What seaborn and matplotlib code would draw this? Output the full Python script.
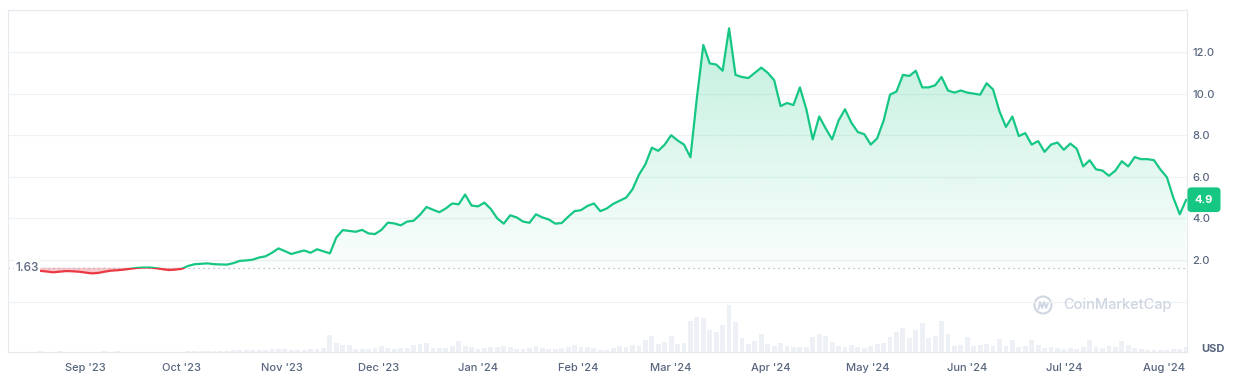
import numpy as np
import pandas as pd
import seaborn as sns
import matplotlib.pyplot as plt
import matplotlib.dates as mdates
from matplotlib.patches import Rectangle, Circle
from matplotlib.path import Path

# one-year price chart (CoinMarketCap style), prices sampled every 2 days

start_date = '2023-08-18'
prices = [
    1.48, 1.45, 1.41, 1.44, 1.47, 1.46, 1.44, 1.40, 1.36, 1.38,
    1.44, 1.49, 1.51, 1.54, 1.58, 1.62, 1.64, 1.64, 1.61, 1.56,
    1.52, 1.54, 1.58, 1.72, 1.80, 1.82, 1.84, 1.80, 1.79, 1.78,
    1.85, 1.96, 1.98, 2.02, 2.12, 2.18, 2.35, 2.56, 2.43, 2.29,
    2.38, 2.46, 2.35, 2.52, 2.42, 2.32, 3.09, 3.44, 3.40, 3.36,
    3.45, 3.28, 3.25, 3.45, 3.80, 3.76, 3.67, 3.85, 3.89, 4.18,
    4.55, 4.42, 4.30, 4.48, 4.72, 4.68, 5.15, 4.62, 4.58, 4.76,
    4.45, 4.00, 3.75, 4.15, 4.05, 3.85, 3.79, 4.20, 4.05, 3.95,
    3.75, 3.78, 4.08, 4.35, 4.40, 4.60, 4.72, 4.35, 4.48, 4.70,
    4.85, 5.00, 5.40, 6.10, 6.60, 7.40, 7.25, 7.55, 8.00, 7.75,
    7.55, 6.94, 9.80, 12.34, 11.45, 11.40, 11.10, 13.14, 10.90, 10.80,
    10.75, 11.00, 11.25, 11.00, 10.65, 9.40, 9.55, 9.45, 10.30, 9.25,
    7.80, 8.90, 8.33, 7.80, 8.70, 9.25, 8.60, 8.15, 8.05, 7.55,
    7.85, 8.70, 9.95, 10.10, 10.90, 10.85, 11.10, 10.30, 10.30, 10.40,
    10.80, 10.15, 10.05, 10.15, 10.05, 10.00, 9.95, 10.50, 10.20, 9.15,
    8.40, 8.90, 7.96, 8.10, 7.55, 7.72, 7.20, 7.55, 7.65, 7.30,
    7.60, 7.35, 6.50, 6.80, 6.36, 6.30, 6.05, 6.30, 6.75, 6.50,
    6.95, 6.85, 6.85, 6.80, 6.35, 5.98, 5.00, 4.20, 4.90,
]
volumes = [
    0.8, 0.3, 0.3, 0.8, 0.3, 0.3, 0.3, 0.3, 0.3, 0.3,
    0.8, 0.3, 0.8, 0.3, 0.3, 0.3, 0.3, 0.3, 0.3, 0.3,
    0.3, 0.3, 0.3, 1.2, 0.5, 1.0, 1.0, 1.0, 0.5, 1.0,
    2.0, 2.0, 1.5, 2.0, 1.5, 2.0, 3.0, 3.0, 3.0, 1.5,
    1.5, 2.0, 3.0, 2.5, 4.0, 17.0, 9.0, 7.0, 7.0, 3.0,
    3.0, 2.5, 4.0, 6.0, 3.5, 3.0, 4.0, 4.0, 7.0, 8.0,
    9.0, 4.0, 4.0, 4.0, 6.0, 11.0, 6.0, 4.5, 3.0, 4.0,
    5.0, 5.0, 6.0, 4.5, 3.0, 3.0, 4.0, 6.0, 4.0, 2.5,
    3.0, 4.0, 5.0, 7.0, 5.0, 5.0, 4.0, 2.0, 2.0, 4.0,
    6.0, 5.0, 7.0, 6.0, 12.0, 16.0, 8.0, 10.0, 16.0, 8.0,
    9.0, 30.0, 34.0, 33.0, 22.0, 20.0, 26.0, 46.0, 29.0, 14.0,
    8.0, 11.0, 18.0, 8.0, 6.0, 9.0, 6.0, 5.0, 5.0, 5.0,
    15.0, 18.0, 16.0, 10.0, 6.0, 5.0, 7.0, 5.0, 4.0, 6.0,
    8.0, 9.0, 15.0, 20.0, 24.0, 14.0, 22.0, 28.0, 14.0, 16.0,
    30.0, 18.0, 6.0, 7.0, 15.0, 6.0, 7.0, 8.0, 6.0, 13.0,
    6.0, 12.0, 5.0, 6.0, 12.0, 7.0, 4.0, 5.0, 4.0, 3.0,
    4.0, 3.0, 5.0, 12.0, 5.0, 4.0, 6.0, 5.0, 11.0, 7.0,
    4.0, 3.0, 2.0, 2.0, 1.5, 2.0, 2.5, 3.0, 5.0,
]
baseline = 1.63
last_price = 4.9
month_ticks = ['2023-09-01', '2023-10-01', '2023-11-01', '2023-12-01', '2024-01-01', '2024-02-01',
               '2024-03-01', '2024-04-01', '2024-05-01', '2024-06-01', '2024-07-01', '2024-08-01']
month_labels = ["Sep '23", "Oct '23", "Nov '23", "Dec '23", "Jan '24", "Feb '24",
                "Mar '24", "Apr '24", "May '24", "Jun '24", "Jul '24", "Aug '24"]
price_ticks = [2.0, 4.0, 6.0, 8.0, 10.0, 12.0]

GREEN = '#16c784'
RED = '#ea3943'
GRID = '#eff2f5'
TXT = '#58667e'

sns.set_style('white')
plt.rcParams['font.family'] = ['Inter', 'DejaVu Sans']

dates = pd.date_range(start_date, periods=len(prices), freq='2D')
p = np.array(prices)
xnum = mdates.date2num(dates)

W, H = 1242, 385
fig = plt.figure(figsize=(W / 100, H / 100), dpi=100)
vax = fig.add_axes([8 / W, 33 / H, 1179 / W, 51 / H])
ax = fig.add_axes([8 / W, 33 / H, 1179 / W, 342 / H])
ax.set_zorder(2)
ax.patch.set_alpha(0)

x0 = mdates.date2num(pd.Timestamp('2023-08-08'))
x1 = mdates.date2num(pd.Timestamp('2024-08-08 06:00'))

# volume
vax.bar(xnum, volumes, width=1.5, color='#edf0f4', linewidth=0)
vax.set_xlim(x0, x1)
vax.set_ylim(0, 50)
vax.axis('off')

# green gradient area above baseline
poly = ax.fill_between(xnum, p, baseline, where=p >= baseline, interpolate=True,
                       facecolor='none', linewidth=0)
clip = Path.make_compound_path(*poly.get_paths())
grad = np.zeros((256, 1, 4))
grad[..., 0:3] = np.array([22, 199, 132]) / 255
grad[:, 0, 3] = np.linspace(0.02, 0.27, 256)
im = ax.imshow(grad, extent=[x0, x1, baseline, 13.2], origin='lower', aspect='auto', zorder=1)
im.set_clip_path(clip, transform=ax.transData)

# red area below baseline
ax.fill_between(xnum, p, baseline, where=p <= baseline, interpolate=True,
                color=RED, alpha=0.28, linewidth=0, zorder=1)

# baseline
ax.axhline(baseline, color='#a6b0c3', linestyle=(0, (1, 3)), linewidth=0.9, zorder=2)

# price line, green above the baseline, red below
sns.lineplot(x=xnum, y=p, ax=ax, color=GREEN, linewidth=1.6, zorder=3)
up = ax.lines[-1]
up.set_clip_path(Rectangle((x0, baseline), x1 - x0, 20, transform=ax.transData))
sns.lineplot(x=xnum, y=p, ax=ax, color=RED, linewidth=1.6, zorder=3)
down = ax.lines[-1]
down.set_clip_path(Rectangle((x0, -5), x1 - x0, 5 + baseline, transform=ax.transData))

ax.set_xlim(x0, x1)
ax.set_ylim(-2.42, 14.02)

ax.set_yticks(np.arange(0, 15, 2))
ax.set_yticklabels([''] + [f'{t:.1f}' for t in price_ticks] + [''])
ax.yaxis.tick_right()
ax.tick_params(axis='y', length=0, pad=4, labelsize=8, labelcolor=TXT)
ax.grid(axis='y', color=GRID, linewidth=0.9)
ax.set_xticks(mdates.date2num(pd.to_datetime(month_ticks)))
ax.set_xticklabels(month_labels)
ax.tick_params(axis='x', length=0, pad=8, labelsize=8, labelcolor=TXT)
for lab in ax.get_xticklabels() + ax.get_yticklabels():
    lab.set_fontweight('medium')
ax.set_xlabel('')
ax.set_ylabel('')
for s in ax.spines.values():
    s.set_color('#e6e9ee')
    s.set_linewidth(0.8)

# baseline label
ax.text(0.0062, baseline, '1.63', transform=ax.get_yaxis_transform(), ha='left', va='center',
        fontsize=8.5, fontweight='medium', color=TXT, zorder=4,
        bbox=dict(boxstyle='square,pad=0.15', fc='white', ec='none'))

# last price tag
ax.annotate(f'{last_price}', xy=(1.0, last_price), xycoords=('axes fraction', 'data'),
            xytext=(17, 0), textcoords='offset pixels', ha='center', va='center',
            fontsize=8, fontweight='bold', color='white', annotation_clip=False,
            bbox=dict(boxstyle='round,pad=0.6,rounding_size=0.3', fc=GREEN, ec=GREEN))

# watermark and currency
fig.text(1117 / W, (H - 305) / H, 'CoinMarketCap', ha='center', va='center',
         fontsize=10.5, fontweight='medium', color='#cfd6e2')
fig.patches.append(Circle((10.43, 0.80), 0.085, transform=fig.dpi_scale_trans,
                          fill=False, ec='#cfd6e2', lw=1.5))
fig.lines.append(plt.Line2D([10.385, 10.40, 10.42, 10.44, 10.46, 10.48],
                            [0.76, 0.83, 0.77, 0.83, 0.77, 0.82],
                            transform=fig.dpi_scale_trans, color='#cfd6e2', lw=1.3))
fig.text(1213 / W, (H - 349) / H, 'USD', ha='center', va='center',
         fontsize=8, fontweight='bold', color=TXT)

fig.savefig('out.png', dpi=100)
